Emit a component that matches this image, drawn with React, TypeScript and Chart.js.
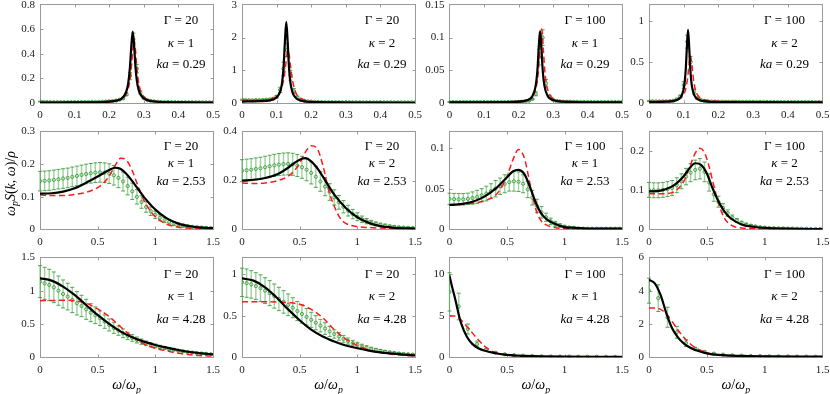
import { useEffect, useRef } from 'react';
import { Chart, registerables } from 'chart.js';

Chart.register(...registerables);

// ---------------- frequency grids of the simulation points ----------------
const omegaTop = [0, 0.01, 0.02, 0.03, 0.04, 0.05, 0.06, 0.07, 0.08, 0.09, 0.1, 0.11, 0.12, 0.13, 0.14, 0.15, 0.16, 0.17, 0.18, 0.19, 0.2, 0.21, 0.22, 0.23, 0.24, 0.25, 0.26, 0.27, 0.28, 0.29, 0.3, 0.31, 0.32, 0.33, 0.34, 0.35, 0.36, 0.37, 0.38, 0.39, 0.4, 0.41, 0.42, 0.43, 0.44, 0.45, 0.46, 0.47, 0.48, 0.49, 0.5];
const omegaMid = [0, 0.04, 0.08, 0.12, 0.16, 0.2, 0.24, 0.28, 0.32, 0.36, 0.4, 0.44, 0.48, 0.52, 0.56, 0.6, 0.64, 0.68, 0.72, 0.76, 0.8, 0.84, 0.88, 0.92, 0.96, 1, 1.04, 1.08, 1.12, 1.16, 1.2, 1.24, 1.28, 1.32, 1.36, 1.4, 1.44, 1.48];
const omegaCoarse = [0, 0.08, 0.16, 0.24, 0.32, 0.4, 0.48, 0.56, 0.64, 0.72, 0.8, 0.88, 0.96, 1.04, 1.12, 1.2, 1.28, 1.36, 1.44];
const omegaTheoryWide = [0, 0.1, 0.2, 0.3, 0.4, 0.5, 0.6, 0.7, 0.8, 0.9, 1, 1.1, 1.2, 1.3, 1.4, 1.5];

// ---------------- tick values ----------------
const xTicksTop = [0, 0.1, 0.2, 0.3, 0.4, 0.5];
const xTicksWide = [0, 0.5, 1, 1.5];
const yTicksR1C1 = [0, 0.2, 0.4, 0.6, 0.8];
const yTicksR1C2 = [0, 1, 2, 3];
const yTicksR1C3 = [0, 0.05, 0.1, 0.15];
const yTicksR1C4 = [0, 0.5, 1];
const yTicksR2C1 = [0, 0.1, 0.2, 0.3];
const yTicksR2C2 = [0, 0.2, 0.4];
const yTicksR2C3 = [0, 0.05, 0.1];
const yTicksR2C4 = [0, 0.1, 0.2];
const yTicksR3C1 = [0, 0.5, 1, 1.5];
const yTicksR3C2 = [0, 0.5, 1];
const yTicksR3C3 = [0, 5, 10];
const yTicksR3C4 = [0, 2, 4, 6];

// ---------------- panel labels ----------------
const gammaValues = ['20', '20', '100', '100'];
const kappaValues = ['1', '2', '1', '2'];
const kaValues = ['0.29', '2.53', '4.28'];

// ---------------- row 1 (ka = 0.29) ----------------
const r1c1BlackX = [0, 0.1, 0.18, 0.22, 0.24, 0.25, 0.255, 0.26, 0.264, 0.268, 0.272, 0.276, 0.28, 0.285, 0.29, 0.3, 0.32, 0.36, 0.42, 0.5];
const r1c1BlackY = [0.0035, 0.0043, 0.0078, 0.019, 0.047, 0.099, 0.162, 0.293, 0.467, 0.583, 0.467, 0.293, 0.181, 0.108, 0.071, 0.037, 0.016, 0.0074, 0.0046, 0.004];
const r1c1RedX = [0, 0.1, 0.18, 0.22, 0.24, 0.25, 0.26, 0.265, 0.268, 0.272, 0.276, 0.279, 0.284, 0.29, 0.3, 0.32, 0.36, 0.42, 0.5];
const r1c1RedY = [0.0046, 0.0054, 0.0088, 0.019, 0.041, 0.077, 0.187, 0.322, 0.43, 0.514, 0.43, 0.322, 0.187, 0.106, 0.052, 0.021, 0.0093, 0.0059, 0.0048];
const r1c1SimMean = [0.012, 0.009, 0.008, 0.008, 0.007, 0.007, 0.007, 0.007, 0.007, 0.007, 0.007, 0.007, 0.008, 0.008, 0.008, 0.009, 0.009, 0.01, 0.011, 0.012, 0.014, 0.016, 0.02, 0.026, 0.038, 0.07, 0.22, 0.52, 0.28, 0.085, 0.04, 0.024, 0.017, 0.013, 0.011, 0.009, 0.008, 0.008, 0.007, 0.007, 0.006, 0.006, 0.006, 0.006, 0.006, 0.006, 0.006, 0.006, 0.006, 0.006, 0.006];
const r1c1SimErr = [0.003, 0.003, 0.003, 0.003, 0.003, 0.003, 0.003, 0.003, 0.003, 0.003, 0.003, 0.003, 0.003, 0.003, 0.003, 0.003, 0.003, 0.003, 0.003, 0.003, 0.003, 0.003, 0.003, 0.003, 0.006, 0.01, 0.03, 0.05, 0.035, 0.012, 0.006, 0.003, 0.003, 0.003, 0.003, 0.003, 0.003, 0.003, 0.003, 0.003, 0.003, 0.003, 0.003, 0.003, 0.003, 0.003, 0.003, 0.003, 0.003, 0.003, 0.003];

const r1c2BlackX = [0, 0.05, 0.08, 0.1, 0.11, 0.115, 0.12, 0.124, 0.128, 0.132, 0.136, 0.14, 0.145, 0.15, 0.16, 0.18, 0.22, 0.3, 0.4, 0.5];
const r1c2BlackY = [0.045, 0.055, 0.08, 0.17, 0.34, 0.56, 1.07, 1.87, 2.48, 1.86, 1.06, 0.62, 0.36, 0.23, 0.12, 0.05, 0.025, 0.015, 0.01, 0.008];
const r1c2RedX = [0, 0.05, 0.08, 0.1, 0.11, 0.12, 0.126, 0.13, 0.133, 0.136, 0.14, 0.146, 0.155, 0.165, 0.18, 0.2, 0.25, 0.3, 0.4, 0.5];
const r1c2RedY = [0.07, 0.09, 0.12, 0.2, 0.33, 0.69, 1.14, 1.49, 1.6, 1.49, 1.14, 0.69, 0.33, 0.18, 0.09, 0.05, 0.03, 0.02, 0.02, 0.02];
const r1c2SimMean = [0.1, 0.09, 0.085, 0.085, 0.09, 0.09, 0.095, 0.1, 0.11, 0.13, 0.19, 0.4, 1.05, 1.62, 0.85, 0.36, 0.17, 0.1, 0.07, 0.05, 0.04, 0.035, 0.03, 0.03, 0.025, 0.025, 0.025, 0.025, 0.025, 0.025, 0.025, 0.025, 0.024, 0.024, 0.023, 0.023, 0.022, 0.022, 0.022, 0.021, 0.021, 0.021, 0.02, 0.02, 0.02, 0.02, 0.02, 0.02, 0.02, 0.02, 0.02];
const r1c2SimErr = [0.015, 0.015, 0.015, 0.015, 0.015, 0.015, 0.015, 0.015, 0.015, 0.02, 0.04, 0.08, 0.2, 0.2, 0.15, 0.08, 0.04, 0.02, 0.01, 0.01, 0.01, 0.01, 0.01, 0.01, 0.01, 0.01, 0.01, 0.01, 0.01, 0.01, 0.01, 0.01, 0.01, 0.01, 0.01, 0.01, 0.01, 0.01, 0.01, 0.01, 0.01, 0.01, 0.01, 0.01, 0.01, 0.01, 0.01, 0.01, 0.01, 0.01, 0.01];

const r1c3BlackX = [0, 0.1, 0.18, 0.22, 0.24, 0.25, 0.255, 0.259, 0.2625, 0.266, 0.27, 0.275, 0.285, 0.3, 0.33, 0.4, 0.5];
const r1c3BlackY = [0.0009, 0.001, 0.0016, 0.0037, 0.0104, 0.027, 0.0515, 0.088, 0.1098, 0.088, 0.0515, 0.027, 0.0104, 0.0045, 0.002, 0.0011, 0.0009];
const r1c3RedX = [0, 0.1, 0.18, 0.22, 0.24, 0.25, 0.257, 0.262, 0.267, 0.272, 0.277, 0.284, 0.294, 0.31, 0.34, 0.4, 0.5];
const r1c3RedY = [0.0011, 0.0013, 0.002, 0.0042, 0.01, 0.0214, 0.0447, 0.0815, 0.113, 0.0815, 0.0447, 0.0214, 0.01, 0.0047, 0.0023, 0.0014, 0.0011];
const r1c3SimMean = [0.0015, 0.0015, 0.0015, 0.0015, 0.0015, 0.0015, 0.0015, 0.0015, 0.0015, 0.0015, 0.0015, 0.0015, 0.0015, 0.0015, 0.0015, 0.0015, 0.0015, 0.0015, 0.0015, 0.0015, 0.0015, 0.002, 0.0025, 0.0035, 0.006, 0.014, 0.07, 0.1, 0.03, 0.01, 0.005, 0.003, 0.0025, 0.002, 0.002, 0.002, 0.0018, 0.0018, 0.0016, 0.0016, 0.0015, 0.0015, 0.0015, 0.0015, 0.0015, 0.0015, 0.0015, 0.0015, 0.0015, 0.0015, 0.0015];
const r1c3SimErr = [0.0008, 0.0008, 0.0008, 0.0008, 0.0008, 0.0008, 0.0008, 0.0008, 0.0008, 0.0008, 0.0008, 0.0008, 0.0008, 0.0008, 0.0008, 0.0008, 0.0008, 0.0008, 0.0008, 0.0008, 0.0008, 0.0008, 0.0008, 0.0008, 0.0008, 0.003, 0.012, 0.012, 0.006, 0.002, 0.0008, 0.0008, 0.0008, 0.0008, 0.0008, 0.0008, 0.0008, 0.0008, 0.0008, 0.0008, 0.0008, 0.0008, 0.0008, 0.0008, 0.0008, 0.0008, 0.0008, 0.0008, 0.0008, 0.0008, 0.0008];

const r1c4BlackX = [0, 0.05, 0.08, 0.095, 0.102, 0.106, 0.109, 0.1125, 0.116, 0.119, 0.123, 0.13, 0.145, 0.17, 0.22, 0.3, 0.4, 0.5];
const r1c4BlackY = [0.0105, 0.016, 0.037, 0.1, 0.226, 0.416, 0.67, 0.894, 0.67, 0.416, 0.226, 0.1, 0.037, 0.0175, 0.011, 0.0095, 0.009, 0.009];
const r1c4RedX = [0, 0.05, 0.08, 0.095, 0.105, 0.111, 0.1155, 0.1195, 0.1235, 0.128, 0.134, 0.145, 0.16, 0.19, 0.25, 0.35, 0.5];
const r1c4RedY = [0.018, 0.023, 0.04, 0.075, 0.158, 0.295, 0.474, 0.575, 0.474, 0.295, 0.158, 0.071, 0.039, 0.023, 0.017, 0.016, 0.015];
const r1c4SimMean = [0.025, 0.022, 0.02, 0.02, 0.02, 0.021, 0.023, 0.028, 0.045, 0.08, 0.22, 0.75, 0.5, 0.14, 0.06, 0.035, 0.025, 0.02, 0.018, 0.017, 0.016, 0.016, 0.015, 0.015, 0.015, 0.015, 0.014, 0.014, 0.014, 0.014, 0.014, 0.013, 0.013, 0.013, 0.013, 0.013, 0.013, 0.013, 0.012, 0.012, 0.012, 0.012, 0.012, 0.012, 0.012, 0.012, 0.012, 0.012, 0.012, 0.012, 0.012];
const r1c4SimErr = [0.006, 0.006, 0.006, 0.006, 0.006, 0.006, 0.006, 0.006, 0.006, 0.015, 0.04, 0.08, 0.07, 0.03, 0.012, 0.006, 0.006, 0.006, 0.006, 0.006, 0.006, 0.006, 0.006, 0.006, 0.006, 0.006, 0.006, 0.006, 0.006, 0.006, 0.006, 0.006, 0.006, 0.006, 0.006, 0.006, 0.006, 0.006, 0.006, 0.006, 0.006, 0.006, 0.006, 0.006, 0.006, 0.006, 0.006, 0.006, 0.006, 0.006, 0.006];

// ---------------- row 2 (ka = 2.53) ----------------
const r2c1BlackX = [0, 0.1, 0.2, 0.3, 0.4, 0.5, 0.6, 0.65, 0.7, 0.75, 0.8, 0.85, 0.9, 1, 1.1, 1.2, 1.3, 1.4, 1.5];
const r2c1BlackY = [0.11, 0.111, 0.116, 0.126, 0.143, 0.162, 0.182, 0.189, 0.185, 0.17, 0.148, 0.124, 0.1, 0.061, 0.034, 0.018, 0.01, 0.006, 0.004];
const r2c1RedX = [0, 0.1, 0.2, 0.3, 0.4, 0.5, 0.55, 0.6, 0.65, 0.7, 0.75, 0.8, 0.85, 0.9, 0.95, 1, 1.1, 1.2, 1.3, 1.5];
const r2c1RedY = [0.106, 0.104, 0.104, 0.107, 0.114, 0.128, 0.142, 0.163, 0.195, 0.218, 0.212, 0.18, 0.133, 0.09, 0.06, 0.039, 0.016, 0.007, 0.004, 0.002];
const r2c1SimMean = [0.148, 0.149, 0.15, 0.152, 0.154, 0.156, 0.158, 0.161, 0.164, 0.167, 0.17, 0.172, 0.174, 0.175, 0.174, 0.171, 0.166, 0.158, 0.147, 0.133, 0.117, 0.1, 0.084, 0.069, 0.056, 0.045, 0.036, 0.029, 0.023, 0.018, 0.015, 0.012, 0.01, 0.008, 0.007, 0.006, 0.005, 0.004];
const r2c1SimErr = [0.03, 0.03, 0.03, 0.03, 0.03, 0.03, 0.03, 0.03, 0.03, 0.03, 0.03, 0.03, 0.03, 0.03, 0.03, 0.03, 0.03, 0.03, 0.029, 0.027, 0.025, 0.022, 0.019, 0.016, 0.013, 0.011, 0.009, 0.008, 0.007, 0.006, 0.005, 0.0045, 0.004, 0.0035, 0.003, 0.003, 0.003, 0.003];

const r2c2BlackX = [0, 0.1, 0.2, 0.3, 0.4, 0.45, 0.5, 0.55, 0.6, 0.65, 0.7, 0.75, 0.8, 0.9, 1, 1.1, 1.2, 1.3, 1.4, 1.5];
const r2c2BlackY = [0.2, 0.203, 0.21, 0.224, 0.252, 0.27, 0.285, 0.291, 0.278, 0.252, 0.217, 0.178, 0.142, 0.088, 0.05, 0.027, 0.014, 0.008, 0.005, 0.004];
const r2c2RedX = [0, 0.1, 0.2, 0.3, 0.4, 0.45, 0.5, 0.55, 0.6, 0.65, 0.7, 0.75, 0.8, 0.85, 0.9, 1, 1.1, 1.2, 1.5];
const r2c2RedY = [0.19, 0.188, 0.19, 0.198, 0.217, 0.238, 0.27, 0.316, 0.342, 0.332, 0.264, 0.163, 0.095, 0.047, 0.025, 0.012, 0.008, 0.006, 0.003];
const r2c2SimMean = [0.24, 0.242, 0.244, 0.247, 0.25, 0.254, 0.258, 0.262, 0.265, 0.267, 0.268, 0.266, 0.261, 0.254, 0.244, 0.231, 0.215, 0.196, 0.175, 0.153, 0.131, 0.111, 0.093, 0.077, 0.063, 0.052, 0.042, 0.034, 0.028, 0.023, 0.019, 0.016, 0.013, 0.011, 0.009, 0.008, 0.007, 0.006];
const r2c2SimErr = [0.045, 0.045, 0.045, 0.045, 0.045, 0.045, 0.045, 0.045, 0.045, 0.045, 0.045, 0.045, 0.045, 0.045, 0.045, 0.045, 0.043, 0.04, 0.037, 0.034, 0.031, 0.028, 0.025, 0.022, 0.019, 0.016, 0.013, 0.011, 0.009, 0.008, 0.007, 0.006, 0.005, 0.004, 0.004, 0.003, 0.003, 0.003];

const r2c3BlackX = [0, 0.1, 0.2, 0.3, 0.4, 0.5, 0.55, 0.6, 0.65, 0.7, 0.75, 0.8, 0.85, 0.9, 1, 1.1, 1.2, 1.5];
const r2c3BlackY = [0.03, 0.031, 0.034, 0.04, 0.05, 0.064, 0.071, 0.073, 0.068, 0.052, 0.033, 0.019, 0.012, 0.008, 0.003, 0.002, 0.001, 0.001];
const r2c3RedX = [0, 0.1, 0.2, 0.3, 0.4, 0.45, 0.5, 0.55, 0.6, 0.65, 0.7, 0.75, 0.8, 0.85, 0.9, 1, 1.2, 1.5];
const r2c3RedY = [0.031, 0.031, 0.032, 0.035, 0.042, 0.051, 0.065, 0.085, 0.098, 0.088, 0.056, 0.025, 0.01, 0.005, 0.003, 0.001, 0.001, 0.001];
const r2c3SimMean = [0.0375, 0.0372, 0.037, 0.037, 0.0375, 0.0385, 0.04, 0.042, 0.044, 0.047, 0.05, 0.053, 0.056, 0.058, 0.059, 0.0585, 0.056, 0.049, 0.039, 0.029, 0.021, 0.015, 0.01, 0.007, 0.005, 0.0035, 0.0025, 0.002, 0.0015, 0.001, 0.001, 0.001, 0.001, 0.001, 0.001, 0.001, 0.001, 0.001];
const r2c3SimErr = [0.007, 0.007, 0.007, 0.007, 0.007, 0.0075, 0.008, 0.008, 0.009, 0.009, 0.01, 0.01, 0.011, 0.011, 0.012, 0.012, 0.011, 0.01, 0.009, 0.008, 0.007, 0.005, 0.004, 0.003, 0.002, 0.0015, 0.001, 0.001, 0.001, 0.001, 0.0008, 0.0008, 0.0008, 0.0008, 0.0008, 0.0008, 0.0008, 0.0008];

const r2c4BlackX = [0, 0.1, 0.2, 0.25, 0.3, 0.35, 0.4, 0.45, 0.5, 0.55, 0.6, 0.65, 0.7, 0.8, 0.9, 1, 1.2, 1.5];
const r2c4BlackY = [0.097, 0.099, 0.11, 0.121, 0.136, 0.156, 0.169, 0.165, 0.143, 0.105, 0.072, 0.047, 0.03, 0.013, 0.007, 0.004, 0.002, 0.001];
const r2c4RedX = [0, 0.1, 0.2, 0.25, 0.3, 0.35, 0.4, 0.44, 0.48, 0.52, 0.56, 0.6, 0.65, 0.7, 0.8, 1, 1.5];
const r2c4RedY = [0.091, 0.091, 0.094, 0.104, 0.122, 0.158, 0.195, 0.207, 0.196, 0.16, 0.112, 0.068, 0.03, 0.013, 0.004, 0.002, 0.001];
const r2c4SimMean = [0.101, 0.1, 0.1, 0.101, 0.103, 0.106, 0.113, 0.123, 0.135, 0.145, 0.152, 0.155, 0.147, 0.12, 0.09, 0.071, 0.055, 0.042, 0.031, 0.023, 0.017, 0.013, 0.01, 0.008, 0.006, 0.005, 0.004, 0.0035, 0.003, 0.003, 0.0025, 0.0025, 0.002, 0.002, 0.002, 0.0015, 0.0015, 0.0015];
const r2c4SimErr = [0.019, 0.019, 0.019, 0.019, 0.019, 0.019, 0.019, 0.019, 0.021, 0.023, 0.025, 0.026, 0.025, 0.022, 0.018, 0.014, 0.011, 0.008, 0.006, 0.005, 0.004, 0.003, 0.0025, 0.002, 0.0015, 0.0015, 0.001, 0.001, 0.001, 0.001, 0.001, 0.001, 0.001, 0.001, 0.001, 0.001, 0.001, 0.001];

// ---------------- row 3 (ka = 4.28) ----------------
const r3c1BlackY = [1.185, 1.15, 1.06, 0.935, 0.785, 0.635, 0.5, 0.385, 0.3, 0.235, 0.185, 0.145, 0.11, 0.08, 0.06, 0.045];
const r3c1RedY = [0.85, 0.852, 0.855, 0.848, 0.81, 0.725, 0.61, 0.455, 0.31, 0.2, 0.135, 0.095, 0.06, 0.04, 0.025, 0.02];
const r3c1SimMean = [1.135, 1.11, 1.085, 1.05, 1.0, 0.95, 0.91, 0.86, 0.81, 0.77, 0.72, 0.67, 0.63, 0.585, 0.535, 0.485, 0.44, 0.4, 0.36, 0.32, 0.29, 0.26, 0.235, 0.21, 0.19, 0.17, 0.155, 0.14, 0.125, 0.115, 0.1, 0.09, 0.08, 0.072, 0.065, 0.058, 0.052, 0.047];
const r3c1SimErr = [0.24, 0.24, 0.235, 0.23, 0.22, 0.21, 0.2, 0.19, 0.175, 0.16, 0.15, 0.135, 0.125, 0.11, 0.1, 0.09, 0.08, 0.07, 0.065, 0.055, 0.05, 0.045, 0.04, 0.035, 0.03, 0.028, 0.025, 0.022, 0.02, 0.018, 0.016, 0.014, 0.012, 0.011, 0.01, 0.009, 0.008, 0.008];

const r3c2BlackY = [0.947, 0.92, 0.84, 0.717, 0.575, 0.445, 0.332, 0.25, 0.19, 0.142, 0.109, 0.081, 0.06, 0.045, 0.032, 0.024];
const r3c2RedY = [0.668, 0.668, 0.668, 0.664, 0.656, 0.636, 0.575, 0.474, 0.332, 0.219, 0.142, 0.089, 0.057, 0.036, 0.024, 0.016];
const r3c2SimMean = [0.9, 0.89, 0.875, 0.855, 0.83, 0.8, 0.77, 0.735, 0.7, 0.665, 0.63, 0.595, 0.555, 0.52, 0.485, 0.45, 0.415, 0.38, 0.345, 0.31, 0.28, 0.25, 0.22, 0.195, 0.17, 0.15, 0.13, 0.115, 0.1, 0.088, 0.077, 0.067, 0.059, 0.052, 0.046, 0.041, 0.037, 0.033];
const r3c2SimErr = [0.17, 0.17, 0.165, 0.16, 0.16, 0.155, 0.15, 0.145, 0.14, 0.135, 0.13, 0.12, 0.115, 0.11, 0.1, 0.09, 0.085, 0.075, 0.07, 0.06, 0.05, 0.045, 0.04, 0.037, 0.033, 0.03, 0.027, 0.024, 0.021, 0.019, 0.017, 0.015, 0.013, 0.012, 0.011, 0.01, 0.009, 0.008];

const r3c3BlackX = [0, 0.02, 0.05, 0.08, 0.1, 0.15, 0.2, 0.25, 0.3, 0.4, 0.5, 0.6, 0.8, 1, 1.5];
const r3c3BlackY = [9.8, 8.6, 6.96, 5.14, 4.13, 2.5, 1.58, 1.09, 0.81, 0.49, 0.28, 0.2, 0.12, 0.08, 0.06];
const r3c3RedX = [0, 0.05, 0.1, 0.15, 0.2, 0.25, 0.3, 0.35, 0.4, 0.5, 0.6, 0.8, 1, 1.5];
const r3c3RedY = [5.0, 4.94, 4.5, 3.7, 2.9, 2.1, 1.38, 0.89, 0.57, 0.28, 0.16, 0.08, 0.05, 0.03];
const r3c3SimMean = [7.85, 6.1, 3.4, 1.6, 0.9, 0.55, 0.36, 0.26, 0.2, 0.16, 0.13, 0.11, 0.1, 0.09, 0.08, 0.075, 0.07, 0.065, 0.06];
const r3c3SimErr = [2.3, 1.6, 0.6, 0.35, 0.15, 0.09, 0.06, 0.04, 0.03, 0.02, 0.02, 0.015, 0.015, 0.01, 0.01, 0.01, 0.01, 0.01, 0.01];

const r3c4BlackX = [0, 0.05, 0.1, 0.15, 0.2, 0.25, 0.3, 0.35, 0.4, 0.5, 0.6, 0.8, 1, 1.5];
const r3c4BlackY = [4.64, 4.44, 3.74, 2.64, 1.74, 1.2, 0.84, 0.6, 0.44, 0.24, 0.14, 0.08, 0.06, 0.04];
const r3c4RedX = [0, 0.05, 0.1, 0.15, 0.2, 0.25, 0.3, 0.35, 0.4, 0.5, 0.6, 0.8, 1, 1.5];
const r3c4RedY = [2.96, 2.96, 2.88, 2.6, 2.14, 1.64, 1.2, 0.84, 0.58, 0.28, 0.14, 0.08, 0.05, 0.03];
const r3c4SimMean = [4.0, 3.55, 2.4, 1.5, 0.85, 0.5, 0.32, 0.22, 0.16, 0.12, 0.1, 0.085, 0.075, 0.065, 0.06, 0.055, 0.05, 0.045, 0.04];
const r3c4SimErr = [0.75, 0.8, 0.6, 0.35, 0.2, 0.1, 0.06, 0.04, 0.03, 0.02, 0.02, 0.015, 0.01, 0.01, 0.01, 0.01, 0.01, 0.01, 0.01];

// ---------------- panel table ----------------
type PanelSpec = {
  row: number; col: number;
  xMax: number; xTicks: number[];
  yMax: number; yTicks: number[];
  blackX: number[]; blackY: number[];
  redX: number[]; redY: number[];
  simX: number[]; simMean: number[]; simErr: number[];
};

const panels: PanelSpec[] = [
  { row: 0, col: 0, xMax: 0.5, xTicks: xTicksTop, yMax: 0.8, yTicks: yTicksR1C1, blackX: r1c1BlackX, blackY: r1c1BlackY, redX: r1c1RedX, redY: r1c1RedY, simX: omegaTop, simMean: r1c1SimMean, simErr: r1c1SimErr },
  { row: 0, col: 1, xMax: 0.5, xTicks: xTicksTop, yMax: 3, yTicks: yTicksR1C2, blackX: r1c2BlackX, blackY: r1c2BlackY, redX: r1c2RedX, redY: r1c2RedY, simX: omegaTop, simMean: r1c2SimMean, simErr: r1c2SimErr },
  { row: 0, col: 2, xMax: 0.5, xTicks: xTicksTop, yMax: 0.15, yTicks: yTicksR1C3, blackX: r1c3BlackX, blackY: r1c3BlackY, redX: r1c3RedX, redY: r1c3RedY, simX: omegaTop, simMean: r1c3SimMean, simErr: r1c3SimErr },
  { row: 0, col: 3, xMax: 0.5, xTicks: xTicksTop, yMax: 1.2, yTicks: yTicksR1C4, blackX: r1c4BlackX, blackY: r1c4BlackY, redX: r1c4RedX, redY: r1c4RedY, simX: omegaTop, simMean: r1c4SimMean, simErr: r1c4SimErr },
  { row: 1, col: 0, xMax: 1.5, xTicks: xTicksWide, yMax: 0.3, yTicks: yTicksR2C1, blackX: r2c1BlackX, blackY: r2c1BlackY, redX: r2c1RedX, redY: r2c1RedY, simX: omegaMid, simMean: r2c1SimMean, simErr: r2c1SimErr },
  { row: 1, col: 1, xMax: 1.5, xTicks: xTicksWide, yMax: 0.4, yTicks: yTicksR2C2, blackX: r2c2BlackX, blackY: r2c2BlackY, redX: r2c2RedX, redY: r2c2RedY, simX: omegaMid, simMean: r2c2SimMean, simErr: r2c2SimErr },
  { row: 1, col: 2, xMax: 1.5, xTicks: xTicksWide, yMax: 0.12, yTicks: yTicksR2C3, blackX: r2c3BlackX, blackY: r2c3BlackY, redX: r2c3RedX, redY: r2c3RedY, simX: omegaMid, simMean: r2c3SimMean, simErr: r2c3SimErr },
  { row: 1, col: 3, xMax: 1.5, xTicks: xTicksWide, yMax: 0.25, yTicks: yTicksR2C4, blackX: r2c4BlackX, blackY: r2c4BlackY, redX: r2c4RedX, redY: r2c4RedY, simX: omegaMid, simMean: r2c4SimMean, simErr: r2c4SimErr },
  { row: 2, col: 0, xMax: 1.5, xTicks: xTicksWide, yMax: 1.5, yTicks: yTicksR3C1, blackX: omegaTheoryWide, blackY: r3c1BlackY, redX: omegaTheoryWide, redY: r3c1RedY, simX: omegaMid, simMean: r3c1SimMean, simErr: r3c1SimErr },
  { row: 2, col: 1, xMax: 1.5, xTicks: xTicksWide, yMax: 1.2, yTicks: yTicksR3C2, blackX: omegaTheoryWide, blackY: r3c2BlackY, redX: omegaTheoryWide, redY: r3c2RedY, simX: omegaMid, simMean: r3c2SimMean, simErr: r3c2SimErr },
  { row: 2, col: 2, xMax: 1.5, xTicks: xTicksWide, yMax: 12, yTicks: yTicksR3C3, blackX: r3c3BlackX, blackY: r3c3BlackY, redX: r3c3RedX, redY: r3c3RedY, simX: omegaCoarse, simMean: r3c3SimMean, simErr: r3c3SimErr },
  { row: 2, col: 3, xMax: 1.5, xTicks: xTicksWide, yMax: 6, yTicks: yTicksR3C4, blackX: r3c4BlackX, blackY: r3c4BlackY, redX: r3c4RedX, redY: r3c4RedY, simX: omegaCoarse, simMean: r3c4SimMean, simErr: r3c4SimErr },
];

// ---------------- layout & style ----------------
const W = 830;
const H = 394;
const Y_AXIS_W = 40;
const X_AXIS_H = 26;
const COL_L = [40, 242, 449.5, 649];
const COL_R = [213, 415, 622, 822.5];
const ROW_T = [4, 131.5, 257.3];
const ROW_B = [103, 229.5, 357.3];
const TEXT_DX = [-32, -33, -37, -38];
const TEXT_DY = [[15, 37.5, 59], [14, 31.5, 49.5], [16.5, 38.5, 61]];
const SERIF = '"Liberation Serif", "DejaVu Serif", serif';
const FRAME = '#9a9a9a';
const TEXT = '#1a1a1a';
const GREEN = 'rgba(52,150,52,0.95)';
const GREEN_BAR = 'rgba(90,180,90,0.6)';
const RED = '#ff1a1a';

type Seg = { t: string; it?: boolean; sub?: boolean };

function drawSegs(ctx: CanvasRenderingContext2D, segs: Seg[], size: number, cx: number, cy: number) {
  const fontFor = (s: Seg) => `${s.it ? 'italic ' : ''}${s.sub ? size * 0.7 : size}px ${SERIF}`;
  let w = 0;
  for (const s of segs) { ctx.font = fontFor(s); w += ctx.measureText(s.t).width; }
  let x = cx - w / 2;
  ctx.textAlign = 'left';
  ctx.textBaseline = 'alphabetic';
  const base = cy + size * 0.33;
  for (const s of segs) {
    ctx.font = fontFor(s);
    ctx.fillText(s.t, x, base + (s.sub ? size * 0.22 : 0));
    x += ctx.measureText(s.t).width;
  }
}

function buildChart(canvas: HTMLCanvasElement, p: PanelSpec) {
  const toPts = (xs: number[], ys: number[]) => xs.map((x, i) => ({ x, y: ys[i] }));
  const left = COL_L[p.col];
  const right = COL_R[p.col];
  const top = ROW_T[p.row];
  const bottom = ROW_B[p.row];

  const framePlugin = {
    id: 'frame',
    beforeDatasetsDraw(chart: any) {
      const { ctx, chartArea: a, scales } = chart;
      const L = Math.floor(a.left) + 0.5;
      const R = Math.floor(a.right) + 0.5;
      const T = Math.floor(a.top) + 0.5;
      const B = Math.floor(a.bottom) + 0.5;
      ctx.save();
      ctx.strokeStyle = FRAME;
      ctx.lineWidth = 1;
      ctx.strokeRect(L, T, R - L, B - T);
      ctx.beginPath();
      for (const v of p.xTicks) {
        const px = Math.round(scales.x.getPixelForValue(v)) + 0.5;
        if (px <= L + 1 || px >= R - 1) continue;
        ctx.moveTo(px, B); ctx.lineTo(px, B - 3);
        ctx.moveTo(px, T); ctx.lineTo(px, T + 3);
      }
      for (const v of p.yTicks) {
        const py = Math.round(scales.y.getPixelForValue(v)) + 0.5;
        if (py <= T + 1 || py >= B - 1) continue;
        ctx.moveTo(L, py); ctx.lineTo(L + 3, py);
        ctx.moveTo(R, py); ctx.lineTo(R - 3, py);
      }
      ctx.stroke();
      ctx.restore();
    },
  };

  const errorPlugin = {
    id: 'errorBars',
    beforeDatasetsDraw(chart: any) {
      const { ctx, chartArea: a, scales } = chart;
      ctx.save();
      ctx.beginPath();
      ctx.rect(a.left - 3, a.top, a.right - a.left + 3, a.bottom - a.top);
      ctx.clip();
      p.simX.forEach((xv, i) => {
        const m = p.simMean[i];
        const e = p.simErr[i];
        if (m === undefined || e === undefined) return;
        const x = scales.x.getPixelForValue(xv);
        const y1 = scales.y.getPixelForValue(m - e);
        const y2 = scales.y.getPixelForValue(m + e);
        ctx.strokeStyle = GREEN_BAR;
        ctx.lineWidth = 1.4;
        ctx.beginPath();
        ctx.moveTo(x, y1); ctx.lineTo(x, y2);
        ctx.stroke();
        ctx.strokeStyle = GREEN;
        ctx.lineWidth = 0.9;
        ctx.beginPath();
        ctx.moveTo(x - 2, y1); ctx.lineTo(x + 2, y1);
        ctx.moveTo(x - 2, y2); ctx.lineTo(x + 2, y2);
        ctx.stroke();
      });
      ctx.restore();
    },
  };

  const textPlugin = {
    id: 'panelText',
    afterDraw(chart: any) {
      const { ctx, chartArea: a } = chart;
      ctx.save();
      ctx.fillStyle = '#000';
      const cx = a.right + TEXT_DX[p.col];
      const dy = TEXT_DY[p.row];
      drawSegs(ctx, [{ t: 'Γ' }, { t: ' = ' + gammaValues[p.col] }], 13, cx, a.top + dy[0]);
      drawSegs(ctx, [{ t: 'κ', it: true }, { t: ' = ' + kappaValues[p.col] }], 13, cx, a.top + dy[1]);
      drawSegs(ctx, [{ t: 'ka', it: true }, { t: ' = ' + kaValues[p.row] }], 13, cx, a.top + dy[2]);
      if (p.row === 2) {
        drawSegs(ctx, [{ t: 'ω', it: true }, { t: '/' }, { t: 'ω', it: true }, { t: 'p', it: true, sub: true }], 14, (a.left + a.right) / 2, a.bottom + 27.5);
      }
      if (p.row === 1 && p.col === 0) {
        ctx.translate(a.left - 30, (a.top + a.bottom) / 2 + 3);
        ctx.rotate(-Math.PI / 2);
        drawSegs(ctx, [
          { t: 'ω', it: true }, { t: 'p', it: true, sub: true }, { t: 'S', it: true }, { t: '(' },
          { t: 'k', it: true }, { t: ', ' }, { t: 'ω', it: true }, { t: ')/' }, { t: 'ρ', it: true },
        ], 14, 0, 0);
      }
      ctx.restore();
    },
  };

  const tickFont = { family: SERIF, size: 11 };

  return new Chart(canvas, {
    type: 'line',
    data: {
      datasets: [
        {
          data: toPts(p.blackX, p.blackY),
          borderColor: '#000000',
          borderWidth: 2.2,
          pointRadius: 0,
          cubicInterpolationMode: 'monotone',
          borderJoinStyle: 'round',
          borderCapStyle: 'round',
          order: 0,
        } as any,
        {
          data: toPts(p.redX, p.redY),
          borderColor: RED,
          borderWidth: 1.5,
          borderDash: [6, 3.5],
          pointRadius: 0,
          cubicInterpolationMode: 'monotone',
          order: 1,
        } as any,
        {
          data: toPts(p.simX, p.simMean),
          showLine: false,
          pointRadius: 1.6,
          pointBorderWidth: 0.9,
          pointBorderColor: GREEN,
          pointBackgroundColor: 'rgba(0,0,0,0)',
          order: 2,
        } as any,
      ],
    },
    options: {
      responsive: false,
      animation: false,
      devicePixelRatio: 1,
      events: [],
      layout: {
        padding: {
          left: left - Y_AXIS_W,
          right: W - right,
          top: top,
          bottom: H - bottom - X_AXIS_H,
        },
      },
      plugins: { legend: { display: false }, tooltip: { enabled: false } },
      scales: {
        x: {
          type: 'linear',
          min: 0,
          max: p.xMax,
          grid: { display: false, drawTicks: false, tickLength: 0 },
          border: { display: false },
          ticks: {
            font: tickFont,
            color: TEXT,
            padding: 6,
            maxRotation: 0,
            minRotation: 0,
            autoSkip: false,
            callback: (v: any) => String(v),
          },
          afterBuildTicks: (s: any) => { s.ticks = p.xTicks.map((v) => ({ value: v })); },
          afterFit: (s: any) => {
            s.height = X_AXIS_H;
            s.paddingLeft = 0; s.paddingRight = 0; s.paddingTop = 0; s.paddingBottom = 0;
          },
        },
        y: {
          type: 'linear',
          min: 0,
          max: p.yMax,
          grid: { display: false, drawTicks: false, tickLength: 0 },
          border: { display: false },
          ticks: {
            font: tickFont,
            color: TEXT,
            padding: 5,
            autoSkip: false,
            callback: (v: any) => String(v),
          },
          afterBuildTicks: (s: any) => { s.ticks = p.yTicks.map((v) => ({ value: v })); },
          afterFit: (s: any) => {
            s.width = Y_AXIS_W;
            s.paddingLeft = 0; s.paddingRight = 0; s.paddingTop = 0; s.paddingBottom = 0;
          },
        },
      },
    } as any,
    plugins: [framePlugin, errorPlugin, textPlugin],
  });
}

function Panel({ spec }: { spec: PanelSpec }) {
  const ref = useRef<HTMLCanvasElement>(null);
  useEffect(() => {
    if (!ref.current) return;
    const chart = buildChart(ref.current, spec);
    return () => chart.destroy();
  }, [spec]);
  return (
    <canvas
      ref={ref}
      width={W}
      height={H}
      style={{ position: 'absolute', left: 0, top: 0, width: W, height: H }}
    />
  );
}

export default function App() {
  return (
    <div style={{ position: 'absolute', left: 0, top: 0, width: W, height: H, background: '#ffffff', overflow: 'hidden' }}>
      {panels.map((p, i) => (
        <Panel key={i} spec={p} />
      ))}
    </div>
  );
}
